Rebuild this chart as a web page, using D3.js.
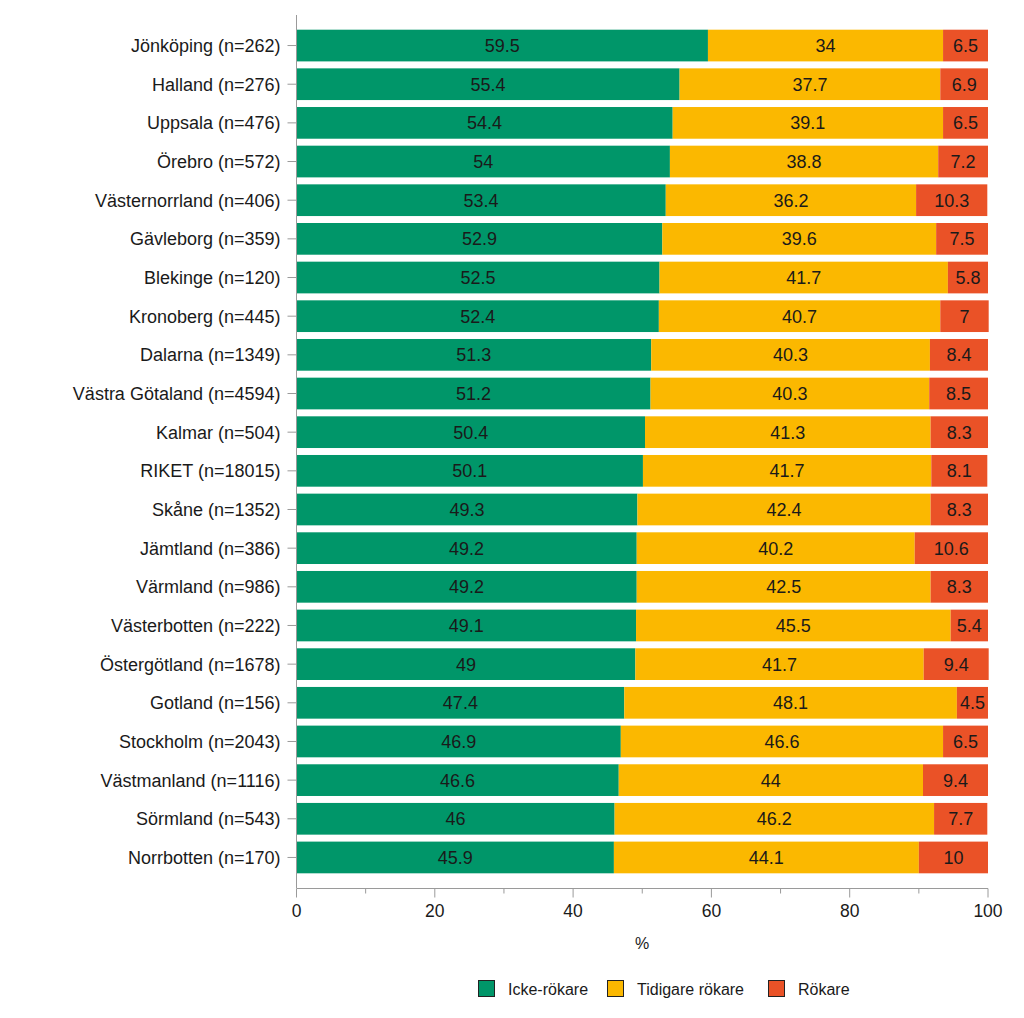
<!DOCTYPE html>
<html><head><meta charset="utf-8">
<script src="https://cdn.jsdelivr.net/npm/d3@7"></script>
<style>body{margin:0;background:#fff}svg{display:block}text{font-family:"Liberation Sans",Arial,sans-serif}</style>
</head><body>
<svg id="c" width="1024" height="1018"></svg>
<script>
const categories = ["Jönköping (n=262)","Halland (n=276)","Uppsala (n=476)","Örebro (n=572)","Västernorrland (n=406)","Gävleborg (n=359)","Blekinge (n=120)","Kronoberg (n=445)","Dalarna (n=1349)","Västra Götaland (n=4594)","Kalmar (n=504)","RIKET (n=18015)","Skåne (n=1352)","Jämtland (n=386)","Värmland (n=986)","Västerbotten (n=222)","Östergötland (n=1678)","Gotland (n=156)","Stockholm (n=2043)","Västmanland (n=1116)","Sörmland (n=543)","Norrbotten (n=170)"];
const ickeRokare = [59.5,55.4,54.4,54,53.4,52.9,52.5,52.4,51.3,51.2,50.4,50.1,49.3,49.2,49.2,49.1,49,47.4,46.9,46.6,46,45.9];
const tidigareRokare = [34,37.7,39.1,38.8,36.2,39.6,41.7,40.7,40.3,40.3,41.3,41.7,42.4,40.2,42.5,45.5,41.7,48.1,46.6,44,46.2,44.1];
const rokare = [6.5,6.9,6.5,7.2,10.3,7.5,5.8,7,8.4,8.5,8.3,8.1,8.3,10.6,8.3,5.4,9.4,4.5,6.5,9.4,7.7,10];
const seriesNames = ["Icke-rökare","Tidigare rökare","Rökare"];
const xTicks = [0,20,40,60,80,100];
const xMinorTicks = [10,30,50,70,90];
const colors = ["#009669","#fbb800","#ea5227"];

const rows = categories.map((c,i)=>({cat:c, "Icke-rökare":ickeRokare[i], "Tidigare rökare":tidigareRokare[i], "Rökare":rokare[i]}));
const stack = d3.stack().keys(seriesNames)(rows);

const svg = d3.select("#c");
const x = d3.scaleLinear().domain([0,100]).range([296.5,988]);
const y = d3.scaleBand().domain(categories).range([15,888]).paddingInner(0.18).paddingOuter(0.38);
const axisCol = "#9a9a9a";
const txtCol = "#1a1a1a";

const g = svg.append("g");
stack.forEach((s,si)=>{
  const gs = g.append("g").attr("fill",colors[si]);
  gs.selectAll("rect").data(s).join("rect")
    .attr("x",d=>x(d[0])).attr("width",d=>x(d[1])-x(d[0]))
    .attr("y",d=>y(d.data.cat)).attr("height",y.bandwidth());
  g.append("g").selectAll("text").data(s).join("text")
    .attr("x",d=>(x(d[0])+x(d[1]))/2).attr("y",d=>y(d.data.cat)+y.bandwidth()/2)
    .attr("dy","0.36em").attr("text-anchor","middle").attr("font-size",18).attr("fill",txtCol)
    .text(d=>d.data[seriesNames[si]]);
});

// y axis
const ya = svg.append("g").attr("transform","translate(296.5,0)");
ya.append("line").attr("y1",15).attr("y2",888).attr("stroke",axisCol);
ya.selectAll(".t").data(categories).join("line")
  .attr("x1",-9).attr("x2",0).attr("y1",d=>y(d)+y.bandwidth()/2).attr("y2",d=>y(d)+y.bandwidth()/2).attr("stroke",axisCol);
ya.selectAll("text").data(categories).join("text")
  .attr("x",-16).attr("y",d=>y(d)+y.bandwidth()/2).attr("dy","0.36em").attr("text-anchor","end")
  .attr("font-size",18).attr("fill",txtCol).text(d=>d);

// x axis
const xa = svg.append("g").attr("transform","translate(0,888.5)");
xa.append("line").attr("x1",296.5).attr("x2",988).attr("stroke",axisCol);
xa.selectAll(".maj").data(xTicks).join("line").attr("x1",d=>x(d)).attr("x2",d=>x(d)).attr("y1",0).attr("y2",9).attr("stroke",axisCol);
xa.selectAll(".min").data(xMinorTicks).join("line").attr("x1",d=>x(d)).attr("x2",d=>x(d)).attr("y1",0).attr("y2",5).attr("stroke",axisCol);
xa.selectAll("text").data(xTicks).join("text").attr("x",d=>x(d)).attr("y",28).attr("text-anchor","middle")
  .attr("font-size",17.5).attr("fill",txtCol).text(d=>d);
svg.append("text").attr("x",642).attr("y",949).attr("text-anchor","middle").attr("font-size",16).attr("fill",txtCol).text("%");

// legend
const legX = [478,607,768];
const lg = svg.append("g");
seriesNames.forEach((n,i)=>{
  lg.append("rect").attr("x",legX[i]+0.5).attr("y",980.5).attr("width",16).attr("height",16).attr("fill",colors[i]).attr("stroke","#222").attr("stroke-width",1);
  lg.append("text").attr("x",legX[i]+30).attr("y",989).attr("dy","0.36em").attr("font-size",16).attr("fill",txtCol).text(n);
});
</script>
</body></html>
